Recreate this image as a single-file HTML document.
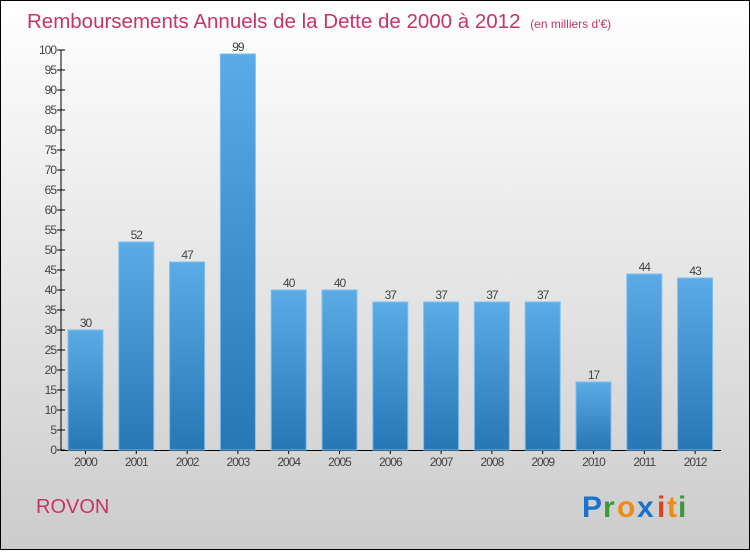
<!DOCTYPE html>
<html><head><meta charset="utf-8"><style>
html,body{margin:0;padding:0}
body{width:750px;height:550px;overflow:hidden;font-family:"Liberation Sans",sans-serif}
</style></head><body>
<svg width="750" height="550" xmlns="http://www.w3.org/2000/svg">
<defs>
<linearGradient id="bg" x1="0" y1="0" x2="0" y2="1"><stop offset="0" stop-color="#ffffff"/><stop offset="1" stop-color="#cccccc"/></linearGradient>
<linearGradient id="bar" x1="0" y1="0" x2="0" y2="1"><stop offset="0" stop-color="#5aabe6"/><stop offset="1" stop-color="#2777b5"/></linearGradient>
</defs>
<rect x="0.5" y="0.5" width="749" height="549" fill="url(#bg)" stroke="#000"/>
<text x="27" y="28" font-size="20.5" fill="#c8336a">Remboursements Annuels de la Dette de 2000 à 2012 <tspan font-size="12" dx="4">(en milliers d'€)</tspan></text>
<g id="axes"></g>
<g id="bars"></g>
<text x="36" y="513" font-size="20" fill="#c8336a">ROVON</text>
<g font-size="30" font-weight="bold" font-family="'Liberation Sans',sans-serif">
<text x="582" y="517" fill="#1a73c9">P</text><text x="603" y="517" fill="#3a9a3a">r</text><text x="617" y="517" fill="#f08a10">o</text><text x="637" y="517" fill="#1a73c9">x</text><text x="657" y="517" fill="#e04020">i</text><text x="667" y="517" fill="#f08a10">t</text><text x="678" y="517" fill="#3a9a3a">i</text>
</g>
</svg>
<script>
const categories=["2000","2001","2002","2003","2004","2005","2006","2007","2008","2009","2010","2011","2012"];
const values=[30,52,47,99,40,40,37,37,37,37,17,44,43];
const yTicks=[0,5,10,15,20,25,30,35,40,45,50,55,60,65,70,75,80,85,90,95,100];
const NS="http://www.w3.org/2000/svg";
const y0=450,yTop=50,yMax=100,x0=61,step=50.8,bw=35;
const ys=v=>y0-(v/yMax)*(y0-yTop);
const xs=i=>68+i*step;
function mk(t,a,p){const e=document.createElementNS(NS,t);for(const k in a)e.setAttribute(k,a[k]);p.appendChild(e);return e;}
const ax=document.getElementById('axes'),bg=document.getElementById('bars');
let l=mk('line',{x1:x0,y1:yTop,x2:x0,y2:y0,stroke:'#000'},ax);


l=mk('line',{x1:x0,y1:y0+0.5,x2:721,y2:y0+0.5,stroke:'#000'},ax);


yTicks.forEach(v=>{
 mk('line',{x1:x0-4,y1:ys(v),x2:x0+4,y2:ys(v),stroke:'#000'},ax);
 const t=mk('text',{x:x0-5,y:ys(v)+4,'font-size':12,'text-anchor':'end',fill:'#444','letter-spacing':'-1'},ax);
 t.textContent=v;
 
 
});
categories.forEach((c,i)=>{
 const v=values[i];
 const r=mk('rect',{x:xs(i),y:ys(v),width:bw,height:y0-ys(v),fill:'url(#bar)',stroke:'#7cc0f0','stroke-width':1},bg);
 
 
 const t=mk('text',{x:xs(i)+bw/2,y:ys(v)-3,'font-size':12,'text-anchor':'middle',fill:'#444','letter-spacing':'-1'},bg);
 t.textContent=v;
 
 
 mk('line',{x1:xs(i)+bw/2,y1:y0,x2:xs(i)+bw/2,y2:y0+4,stroke:'#000'},ax);
 const xl=mk('text',{x:xs(i)+bw/2,y:y0+16,'font-size':12,'text-anchor':'middle',fill:'#444','letter-spacing':'-1'},ax);
 xl.textContent=c;
 
 
});
</script>
</body></html>
